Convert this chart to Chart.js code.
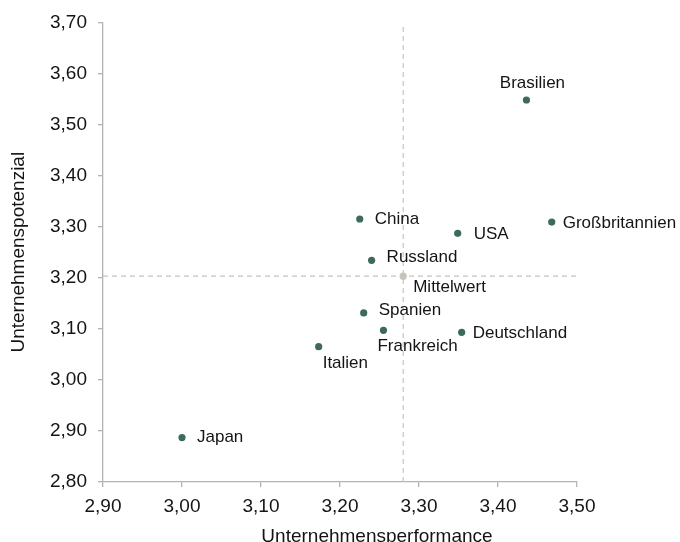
<!DOCTYPE html>
<html lang="de">
<head>
<meta charset="utf-8">
<title>Unternehmensperformance und Unternehmenspotenzial</title>
<script src="https://cdn.jsdelivr.net/npm/chart.js@4/dist/chart.umd.min.js"></script>
<style>
  html, body { margin: 0; padding: 0; background: #ffffff; }
  #chart { display: block; }
</style>
</head>
<body>
<canvas id="chart" width="680" height="542"></canvas>
<script>
// Länder mit Unternehmensperformance (x) und Unternehmenspotenzial (y)
const countries   = ['Japan', 'Italien', 'Brasilien', 'China', 'Großbritannien', 'USA', 'Russland', 'Spanien', 'Frankreich', 'Deutschland'];
const performance = [3.000, 3.173, 3.436, 3.225, 3.468, 3.349, 3.240, 3.230, 3.255, 3.354];
const potential   = [2.887, 3.065, 3.548, 3.315, 3.309, 3.287, 3.234, 3.131, 3.097, 3.093];

// Mittelwert über alle Länder
const meanLabel = 'Mittelwert';
const meanPerformance = 3.280;
const meanPotential = 3.203;

// Achsen
const xTickValues = [2.9, 3.0, 3.1, 3.2, 3.3, 3.4, 3.5];
const xTickLabels = ['2,90', '3,00', '3,10', '3,20', '3,30', '3,40', '3,50'];
const yTickValues = [2.8, 2.9, 3.0, 3.1, 3.2, 3.3, 3.4, 3.5, 3.6, 3.7];
const yTickLabels = ['2,80', '2,90', '3,00', '3,10', '3,20', '3,30', '3,40', '3,50', '3,60', '3,70'];
const xTitle = 'Unternehmensperformance';
const yTitle = 'Unternehmenspotenzial';

const FONT = '"Liberation Sans", Arial, Helvetica, sans-serif';
const TEXT = '#141414';
const AXIS = '#b3b3b3';
const DASH = '#c4c4c4';

// Beschriftungsposition je Punkt (Ausrichtung und Versatz in Pixeln)
const placement = {
  'Japan':          { align: 'left',   dx: 15, dy: 0 },
  'Italien':        { align: 'left',   dx: 4,  dy: 17 },
  'Brasilien':      { align: 'center', dx: 6,  dy: -17 },
  'China':          { align: 'left',   dx: 15, dy: 0 },
  'Großbritannien': { align: 'left',   dx: 11, dy: 1 },
  'USA':            { align: 'left',   dx: 16, dy: 1 },
  'Russland':       { align: 'left',   dx: 15, dy: -3 },
  'Spanien':        { align: 'left',   dx: 15, dy: -3 },
  'Frankreich':     { align: 'left',   dx: -6, dy: 16 },
  'Deutschland':    { align: 'left',   dx: 11, dy: 1 },
  'Mittelwert':     { align: 'left',   dx: 10, dy: 11 }
};

const pointLabels = {
  id: 'pointLabels',
  afterDatasetsDraw(chart) {
    const ctx = chart.ctx;
    ctx.save();
    ctx.font = '17px ' + FONT;
    ctx.fillStyle = TEXT;
    ctx.textBaseline = 'middle';
    chart.data.datasets.forEach((ds, di) => {
      if (!ds.names) return;
      const meta = chart.getDatasetMeta(di);
      meta.data.forEach((el, i) => {
        const name = ds.names[i];
        const p = placement[name];
        ctx.textAlign = p.align;
        ctx.fillText(name, el.x + p.dx, el.y + p.dy);
      });
    });
    ctx.restore();
  }
};

// Titel der x-Achse, etwas rechts der Mitte und am unteren Rand angeschnitten
const xAxisTitle = {
  id: 'xAxisTitle',
  afterDraw(chart) {
    const ctx = chart.ctx;
    const area = chart.chartArea;
    ctx.save();
    ctx.font = '19px ' + FONT;
    ctx.fillStyle = TEXT;
    ctx.textAlign = 'center';
    ctx.textBaseline = 'alphabetic';
    ctx.fillText(xTitle, (area.left + area.right) / 2 + 37, chart.height);
    ctx.restore();
  }
};

const xy = (xs, ys) => xs.map((x, i) => ({ x: x, y: ys[i] }));

new Chart(document.getElementById('chart'), {
  type: 'scatter',
  data: {
    datasets: [
      {
        label: 'Länder',
        names: countries,
        data: xy(performance, potential),
        backgroundColor: '#3d6b58',
        borderWidth: 0,
        pointRadius: 3.6,
        order: 1
      },
      {
        label: meanLabel,
        names: [meanLabel],
        data: [{ x: meanPerformance, y: meanPotential }],
        backgroundColor: '#c7c3bc',
        borderWidth: 0,
        pointRadius: 3.6,
        order: 1
      },
      {
        label: 'Mittelwert Performance',
        type: 'line',
        data: [{ x: meanPerformance, y: yTickValues[0] }, { x: meanPerformance, y: yTickValues[yTickValues.length - 1] }],
        borderColor: DASH,
        borderWidth: 1.2,
        borderDash: [5, 4],
        pointRadius: 0,
        fill: false,
        order: 3
      },
      {
        label: 'Mittelwert Potenzial',
        type: 'line',
        data: [{ x: xTickValues[0], y: meanPotential }, { x: xTickValues[xTickValues.length - 1], y: meanPotential }],
        borderColor: DASH,
        borderWidth: 1.2,
        borderDash: [5, 4],
        pointRadius: 0,
        fill: false,
        order: 3
      }
    ]
  },
  options: {
    responsive: false,
    animation: false,
    devicePixelRatio: 1,
    layout: { padding: { left: 0, right: 103, top: 21, bottom: 0 } },
    plugins: { legend: { display: false }, tooltip: { enabled: false } },
    scales: {
      x: {
        type: 'linear',
        min: xTickValues[0],
        max: xTickValues[xTickValues.length - 1],
        afterBuildTicks: s => { s.ticks = xTickValues.map(v => ({ value: v })); },
        afterFit: s => { s.height = 60; },
        border: { display: true, color: AXIS, width: 1.3 },
        grid: { display: true, drawOnChartArea: false, drawTicks: true, tickLength: 5, color: AXIS, lineWidth: 1.3 },
        ticks: {
          padding: 8,
          color: TEXT,
          font: { family: FONT, size: 19 },
          callback: (v, i) => xTickLabels[i]
        },
        title: { display: false }
      },
      y: {
        type: 'linear',
        min: yTickValues[0],
        max: yTickValues[yTickValues.length - 1],
        afterBuildTicks: s => { s.ticks = yTickValues.map(v => ({ value: v })); },
        afterFit: s => { s.width = 103; },
        border: { display: true, color: AXIS, width: 1.3 },
        grid: { display: true, drawOnChartArea: false, drawTicks: true, tickLength: 5, color: AXIS, lineWidth: 1.3 },
        ticks: {
          padding: 11,
          color: TEXT,
          font: { family: FONT, size: 19 },
          callback: (v, i) => yTickLabels[i]
        },
        title: {
          display: true,
          text: yTitle,
          color: TEXT,
          font: { family: FONT, size: 19 },
          padding: { top: 7, bottom: 0 }
        }
      }
    }
  },
  plugins: [pointLabels, xAxisTitle]
});
</script>
</body>
</html>
